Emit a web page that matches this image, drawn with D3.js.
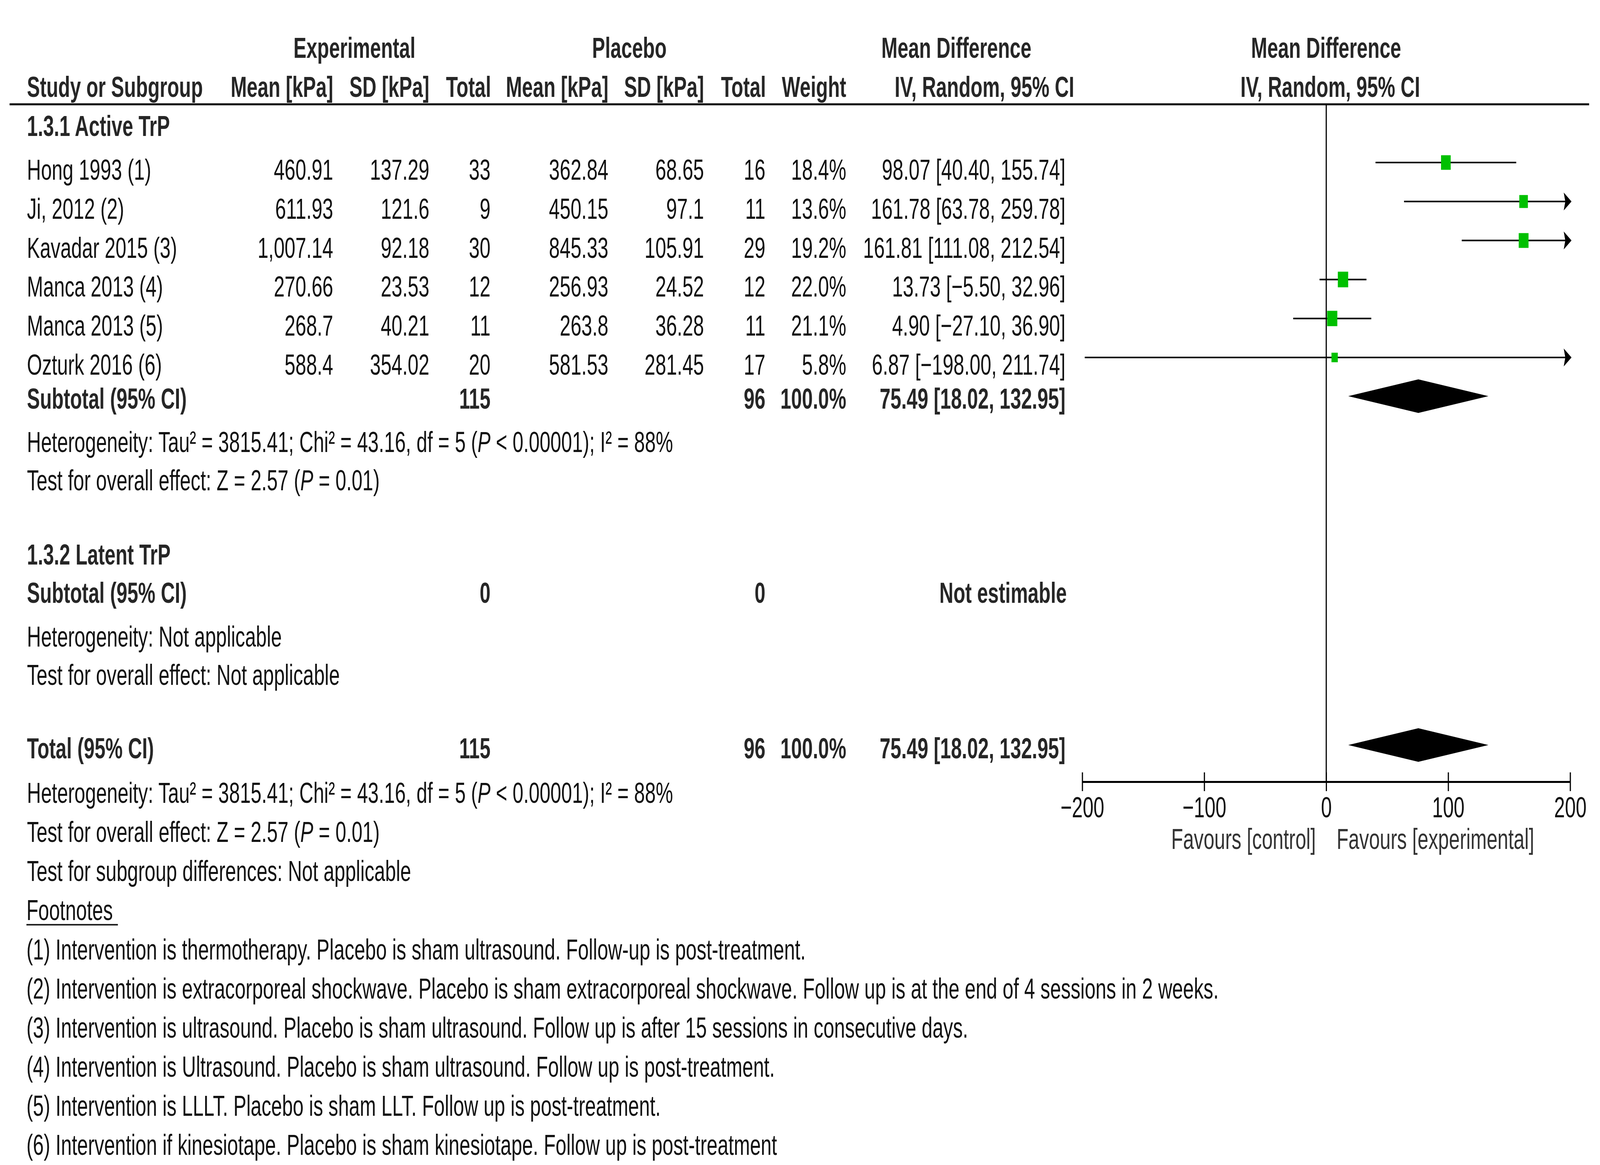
<!DOCTYPE html>
<html>
<head>
<meta charset="utf-8">
<script src="https://cdn.jsdelivr.net/npm/d3@7"></script>
<style>
  html, body { margin: 0; padding: 0; background: #fff; width: 100%; height: 100%; overflow: hidden; }
  svg { display: block; }
  text { font-family: "Liberation Sans", Arial, Helvetica, sans-serif; font-size: 75px; fill: #111; }
  .b { font-weight: bold; fill: #262626; }
</style>
</head>
<body>
<script>
// ---------------- data ----------------
const studies   = ["Hong 1993 (1)", "Ji, 2012 (2)", "Kavadar 2015 (3)", "Manca 2013 (4)", "Manca 2013 (5)", "Ozturk 2016 (6)"];
const expMean   = [460.91, 611.93, 1007.14, 270.66, 268.7, 588.4];
const expSD     = [137.29, 121.6, 92.18, 23.53, 40.21, 354.02];
const expN      = [33, 9, 30, 12, 11, 20];
const plaMean   = [362.84, 450.15, 845.33, 256.93, 263.8, 581.53];
const plaSD     = [68.65, 97.1, 105.91, 24.52, 36.28, 281.45];
const plaN      = [16, 11, 29, 12, 11, 17];
const weights   = [18.4, 13.6, 19.2, 22.0, 21.1, 5.8];
const md        = [98.07, 161.78, 161.81, 13.73, 4.90, 6.87];
const ciLow     = [40.40, 63.78, 111.08, -5.50, -27.10, -198.00];
const ciHigh    = [155.74, 259.78, 212.54, 32.96, 36.90, 211.74];
const pooled    = { md: 75.49, lo: 18.02, hi: 132.95, expN: 115, plaN: 96, weight: 100.0 };
const axisTicks = [-200, -100, 0, 100, 200];
const axisLabels = ["Favours [control]", "Favours [experimental]"];
const hetText   = ["Heterogeneity: Tau² = 3815.41; Chi² = 43.16, df = 5 (", "P", " < 0.00001); I² = 88%"];
const testText  = ["Test for overall effect: Z = 2.57 (", "P", " = 0.01)"];
const footnotes = [
  "(1) Intervention is thermotherapy. Placebo is sham ultrasound. Follow-up is post-treatment.",
  "(2) Intervention is extracorporeal shockwave. Placebo is sham extracorporeal shockwave. Follow up is at the end of 4 sessions in 2 weeks.",
  "(3) Intervention is ultrasound. Placebo is sham ultrasound. Follow up is after 15 sessions in consecutive days.",
  "(4) Intervention is Ultrasound. Placebo is sham ultrasound. Follow up is post-treatment.",
  "(5) Intervention is LLLT. Placebo is sham LLT. Follow up is post-treatment.",
  "(6) Intervention if kinesiotape. Placebo is sham kinesiotape. Follow up is post-treatment"
];

// ---------------- setup ----------------
const W = 6175, H = 2982;
const svg = d3.select("body").append("svg")
  .attr("viewBox", `0 0 ${W} ${H}`)
  .attr("preserveAspectRatio", "none")
  .style("width", "100vw").style("height", "100vh");
svg.append("rect").attr("width", W).attr("height", H).attr("fill", "#fff");

const fNum = d3.format(",");
const f2 = d3.format(".2f");
const f1 = d3.format(".1f");
const ciStr = (m, l, h) => `${f2(m)} [${f2(l)}, ${f2(h)}]`;

// columns (right edges) and vertical layout
const LEFT = 104;
const col = { eMean: 1286, eSD: 1657, eN: 1893, pMean: 2348, pSD: 2717, pN: 2954, wt: 3266, ci: 4112 };
const rowY = d3.scaleLinear().domain([0, studies.length - 1]).range([416, 915]);
const textOff = 44;

const x = d3.scaleLinear().domain([-200, 200]).range([4177, 6060]);
const boxSize = d3.scaleSqrt().domain([0, 22]).range([8, 40]);

function txt(s, xx, yy, anchor, cls) {
  return svg.append("text").attr("x", xx).attr("y", yy)
    .attr("text-anchor", anchor || "start").attr("class", cls || null).text(s);
}
function richTxt(parts, xx, yy) {
  const t = svg.append("text").attr("x", xx).attr("y", yy);
  parts.forEach((p, i) => {
    const ts = t.append("tspan").text(p);
    if (i === 1) ts.attr("font-style", "italic");
  });
}

// ---------------- headers ----------------
txt("Experimental", 1368, 148, "middle", "b");
txt("Placebo", 2429, 148, "middle", "b");
txt("Mean Difference", 3691, 148, "middle", "b");
txt("Mean Difference", 5118, 148, "middle", "b");

txt("Study or Subgroup", LEFT, 248, "start", "b");
txt("Mean [kPa]", col.eMean, 248, "end", "b");
txt("SD [kPa]", col.eSD, 248, "end", "b");
txt("Total", col.eN + 2, 248, "end", "b");
txt("Mean [kPa]", col.pMean, 248, "end", "b");
txt("SD [kPa]", col.pSD, 248, "end", "b");
txt("Total", col.pN + 2, 248, "end", "b");
txt("Weight", col.wt, 248, "end", "b");
txt("IV, Random, 95% CI", 4146, 248, "end", "b");
txt("IV, Random, 95% CI", 5134, 248, "middle", "b");

svg.append("line").attr("x1", 37).attr("x2", 6133).attr("y1", 267).attr("y2", 267)
  .attr("stroke", "#000").attr("stroke-width", 5);

// ---------------- subgroup 1 ----------------
txt("1.3.1 Active TrP", LEFT, 348, "start", "b");

studies.forEach((s, i) => {
  const yy = rowY(i) + textOff;
  txt(s, LEFT, yy);
  txt(fNum(expMean[i]), col.eMean, yy, "end");
  txt(fNum(expSD[i]), col.eSD, yy, "end");
  txt(expN[i], col.eN, yy, "end");
  txt(fNum(plaMean[i]), col.pMean, yy, "end");
  txt(fNum(plaSD[i]), col.pSD, yy, "end");
  txt(plaN[i], col.pN, yy, "end");
  txt(f1(weights[i]) + "%", col.wt, yy, "end");
  txt(ciStr(md[i], ciLow[i], ciHigh[i]), col.ci, yy, "end");
});

function subtotalRow(yy, label, e, p, w, ci) {
  txt(label, LEFT, yy, "start", "b");
  txt(e, col.eN, yy, "end", "b");
  txt(p, col.pN, yy, "end", "b");
  txt(w, col.wt, yy, "end", "b");
  txt(ci, col.ci, yy, "end", "b");
}

subtotalRow(1046, "Subtotal (95% CI)", pooled.expN, pooled.plaN, f1(pooled.weight) + "%",
  ciStr(pooled.md, pooled.lo, pooled.hi));
richTxt(hetText, LEFT, 1157);
richTxt(testText, LEFT, 1255);

// ---------------- subgroup 2 ----------------
txt("1.3.2 Latent TrP", LEFT, 1445, "start", "b");
txt("Subtotal (95% CI)", LEFT, 1543, "start", "b");
txt(0, col.eN, 1543, "end", "b");
txt(0, col.pN, 1543, "end", "b");
txt("Not estimable", 4117, 1543, "end", "b");
txt("Heterogeneity: Not applicable", LEFT, 1655);
txt("Test for overall effect: Not applicable", LEFT, 1753);

// ---------------- total ----------------
subtotalRow(1941, "Total (95% CI)", pooled.expN, pooled.plaN, f1(pooled.weight) + "%",
  ciStr(pooled.md, pooled.lo, pooled.hi));
richTxt(hetText, LEFT, 2055);
richTxt(testText, LEFT, 2155);
txt("Test for subgroup differences: Not applicable", LEFT, 2255);
txt("Footnotes", LEFT - 2, 2355);
svg.append("line").attr("x1", 102).attr("x2", 455).attr("y1", 2367).attr("y2", 2367)
  .attr("stroke", "#222").attr("stroke-width", 4);
footnotes.forEach((f, i) => txt(f, LEFT - 2, 2456 + i * 100));

// ---------------- forest plot ----------------
const axisY = 2001;
svg.append("line").attr("x1", x(0)).attr("x2", x(0)).attr("y1", 267).attr("y2", axisY)
  .attr("stroke", "#000").attr("stroke-width", 4.5);

const plot = svg.append("g");
studies.forEach((s, i) => {
  const yy = rowY(i);
  const lo = Math.max(ciLow[i], -200), hi = Math.min(ciHigh[i], 200);
  plot.append("line").attr("x1", x(lo)).attr("x2", x(hi)).attr("y1", yy).attr("y2", yy)
    .attr("stroke", "#000").attr("stroke-width", 4);
  if (ciHigh[i] > 200) {
    const tx = x(200) + 5;
    plot.append("path")
      .attr("d", `M${tx},${yy} L${tx - 30},${yy - 23} L${tx - 24},${yy} L${tx - 30},${yy + 23} Z`)
      .attr("fill", "#000");
  }
  if (ciLow[i] < -200) {
    const tx = x(-200) - 5;
    plot.append("path")
      .attr("d", `M${tx},${yy} L${tx + 30},${yy - 23} L${tx + 24},${yy} L${tx + 30},${yy + 23} Z`)
      .attr("fill", "#000");
  }
  const sz = boxSize(weights[i]);
  plot.append("rect").attr("x", x(md[i]) - sz / 2).attr("y", yy - sz / 2)
    .attr("width", sz).attr("height", sz).attr("fill", "#00c000");
});

function diamond(cy) {
  plot.append("path")
    .attr("d", `M${x(pooled.lo)},${cy} L${x(pooled.md)},${cy - 43} L${x(pooled.hi)},${cy} L${x(pooled.md)},${cy + 43} Z`)
    .attr("fill", "#000");
}
diamond(1014);
diamond(1907);

// axis
const axis = d3.axisBottom(x).tickValues(axisTicks).tickSizeOuter(0).tickSizeInner(24).tickPadding(0);
const ag = svg.append("g").attr("transform", `translate(0,${axisY})`).call(axis);
ag.select(".domain").attr("stroke", "#000").attr("stroke-width", 5);
ag.selectAll(".tick line").attr("y1", -24).attr("y2", 24).attr("stroke", "#000").attr("stroke-width", 4.5);
ag.selectAll(".tick text").attr("y", 91).attr("dy", 0)
  .style("font-family", '"Liberation Sans", Arial, sans-serif').style("font-size", "75px").attr("fill", "#111");

txt(axisLabels[0], x(0) - 40, 2173, "end").style("fill", "#333");
txt(axisLabels[1], x(0) + 40, 2173, "start").style("fill", "#333");
</script>
</body>
</html>
